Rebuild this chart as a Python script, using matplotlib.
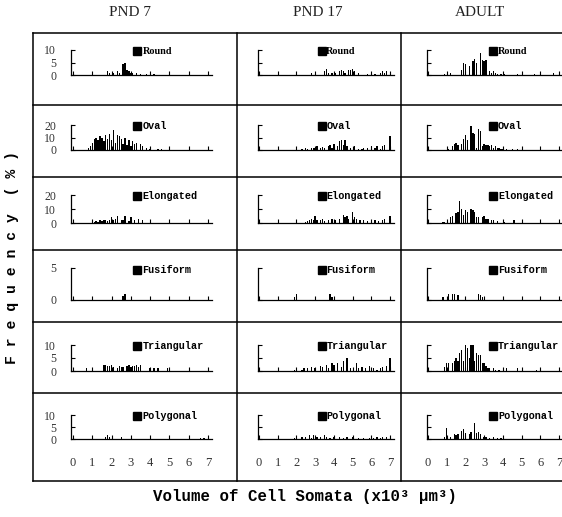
import matplotlib
matplotlib.use("Agg")
import matplotlib.pyplot as plt
from matplotlib.lines import Line2D

ages = ["PND 7", "PND 17", "ADULT"]
shapes = ["Round", "Oval", "Elongated", "Fusiform", "Triangular", "Polygonal"]
y_max = [10, 20, 20, 5, 10, 10]
y_ticks = [[0, 5, 10], [0, 10, 20], [0, 10, 20], [0, 5], [0, 5, 10], [0, 5, 10]]
x_ticks = [0, 1, 2, 3, 4, 5, 6, 7]

# PND 7
p7_round_x = [1.8, 1.9, 2.1, 2.3, 2.4, 2.6, 2.7, 2.8, 2.9, 3.0, 3.1, 3.3, 3.5, 3.8, 4.2]
p7_round_h = [1.5, 1.0, 1.0, 1.5, 1.0, 4.5, 5.0, 2.0, 1.5, 1.0, 1.0, 1.0, 0.5, 0.5, 0.5]
p7_oval_x = [0.8, 0.9, 1.0, 1.1, 1.2, 1.3, 1.4, 1.5, 1.6, 1.7, 1.8, 1.9, 2.0, 2.1, 2.2, 2.3,
             2.4, 2.5, 2.6, 2.7, 2.8, 2.9, 3.0, 3.1, 3.2, 3.3, 3.5, 3.6, 3.8, 4.0, 4.4, 4.6]
p7_oval_h = [2, 3, 6, 9, 10, 8, 11, 10, 7, 12, 9, 13, 8, 16, 6, 12,
             11, 9, 5, 10, 4, 8, 3, 7, 5, 6, 5, 3, 2, 1, 1, 1]
p7_elong_x = [1.0, 1.1, 1.2, 1.3, 1.4, 1.5, 1.6, 1.7, 1.8, 1.9, 2.0, 2.1, 2.2, 2.3, 2.5,
              2.6, 2.7, 2.9, 3.0, 3.2, 3.4, 3.6]
p7_elong_h = [1, 1, 1.5, 1, 2, 1.5, 2, 2, 1.5, 2, 4, 2, 3, 5, 2, 2, 5, 1.5, 4, 2, 3, 2]
p7_fusi_x = [2.6, 2.7]
p7_fusi_h = [0.6, 1.0]
p7_tri_x = [0.7, 1.0, 1.6, 1.7, 1.8, 1.9, 2.0, 2.1, 2.3, 2.4, 2.5, 2.6, 2.8, 2.9, 3.0, 3.1,
            3.2, 3.3, 3.4, 3.5, 4.0, 4.2, 4.4, 4.9]
p7_tri_h = [1, 0.5, 2.5, 2.5, 2, 2, 2.5, 1.5, 1, 2, 1.5, 1.5, 2, 2.5, 1.5, 2,
            2, 2.5, 1.5, 2.5, 1, 1, 1, 1]
p7_poly_x = [1.7, 1.8, 1.9, 2.5, 6.6, 6.8]
p7_poly_h = [1, 1.5, 1, 1, 0.5, 0.5]

# PND 17
p17_round_x = [2.8, 3.5, 3.6, 3.7, 3.9, 4.1, 4.3, 4.4, 4.5, 4.6, 4.8, 4.9, 5.0, 5.1, 5.3,
               5.8, 6.2, 6.5, 6.6, 6.7, 6.8]
p17_round_h = [1, 1.5, 2.5, 1, 1, 1, 1.5, 2, 1.5, 1, 2, 2, 2.5, 1.5, 1,
               0.5, 0.5, 1, 1.5, 1, 1.5]
p17_oval_x = [2.3, 2.5, 2.6, 2.8, 2.9, 3.0, 3.1, 3.3, 3.4, 3.5, 3.7, 3.8, 3.9, 4.0, 4.2,
              4.3, 4.4, 4.5, 4.6, 4.7, 4.9, 5.1, 5.3, 5.5, 5.6, 5.8, 6.0, 6.2, 6.3, 6.5,
              6.6, 6.7, 7.0]
p17_oval_h = [1, 1.5, 1, 2, 1.5, 2, 3, 1.5, 2.5, 2, 3, 4, 2, 5, 3,
              7, 8, 4, 8, 3, 2, 3, 1, 1, 2, 1.5, 3, 2, 3, 1,
              3, 4, 11]
p17_elong_x = [2.5, 2.6, 2.7, 2.8, 2.9, 3.0, 3.1, 3.3, 3.4, 3.5, 3.7, 3.9, 4.1, 4.3, 4.5,
               4.6, 4.7, 4.8, 5.0, 5.1, 5.2, 5.4, 5.6, 5.8, 6.0, 6.2, 6.4, 6.6, 6.7, 7.0]
p17_elong_h = [1, 1.5, 2.5, 3, 2, 5, 2, 2.5, 3, 1.5, 2, 3, 2.5, 3, 6,
               4, 5, 3, 8, 4, 3, 2, 2, 1.5, 2, 2, 1.5, 2, 3, 5]
p17_fusi_x = [1.9, 2.0, 3.8, 3.9]
p17_fusi_h = [0.5, 1.0, 0.9, 0.5]
p17_tri_x = [1.9, 2.0, 2.3, 2.4, 2.6, 2.8, 3.0, 3.3, 3.4, 3.6, 3.7, 3.9, 4.0, 4.2, 4.4,
             4.5, 4.7, 4.9, 5.2, 5.3, 5.5, 5.7, 5.9, 6.1, 6.3, 6.5, 6.6, 6.8, 7.0]
p17_tri_h = [0.5, 1, 0.5, 1, 1, 1.5, 1, 2, 1.5, 2.5, 1, 3, 2.5, 3, 1.5,
             4, 5, 1, 3, 1, 1.5, 1, 2, 1, 0.5, 1, 1.5, 2, 5]
p17_poly_x = [1.9, 2.3, 2.5, 2.7, 2.8, 2.9, 3.1, 3.3, 3.5, 3.6, 3.8, 4.0, 4.3, 4.5, 4.7,
              5.0, 5.3, 5.6, 5.9, 6.1, 6.3, 6.5, 6.6, 6.8]
p17_poly_h = [0.5, 1, 1, 1.5, 0.5, 1.5, 1, 1, 1.5, 1, 0.5, 1, 1, 0.5, 1,
              1, 0.5, 0.5, 0.5, 0.5, 1, 0.5, 1, 1]

# ADULT
ad_round_x = [0.9, 1.2, 1.8, 1.9, 2.0, 2.2, 2.4, 2.5, 2.6, 2.8, 2.9, 3.0, 3.1, 3.3, 3.4,
              3.5, 3.6, 3.7, 3.9, 4.1, 4.8, 5.7, 6.7]
ad_round_h = [0.5, 1, 2, 5, 4.5, 3.5, 5.5, 6.5, 5, 9, 6, 5.5, 6, 1.5, 1,
              1.5, 1, 0.5, 0.5, 0.5, 0.5, 0.5, 1]
ad_oval_x = [1.1, 1.3, 1.4, 1.5, 1.6, 1.8, 1.9, 2.0, 2.1, 2.3, 2.4, 2.5, 2.6, 2.7, 2.8,
             2.9, 3.0, 3.1, 3.2, 3.3, 3.4, 3.5, 3.6, 3.7, 3.8, 3.9, 4.0, 4.2, 4.5, 4.8]
ad_oval_h = [1, 3, 5, 6, 4, 5, 9, 12, 8, 19, 14, 13, 2, 17, 15,
             3, 5, 4, 4, 3, 4, 2, 3, 2, 1.5, 1, 1, 0.5, 0.5, 0.5]
ad_elong_x = [0.8, 0.9, 1.2, 1.3, 1.5, 1.6, 1.7, 1.8, 1.9, 2.0, 2.1, 2.3, 2.4, 2.5, 2.6,
              2.7, 2.9, 3.0, 3.1, 3.2, 3.4, 3.5, 3.7, 4.1, 4.6]
ad_elong_h = [1, 1, 4, 5, 7, 8, 16, 10, 6, 9, 8, 10, 9, 8, 4,
              4, 4, 5, 3, 3, 2, 2, 1.5, 1, 2]
ad_fusi_x = [0.8, 1.1, 1.3, 1.4, 1.6, 2.7, 2.8, 2.9]
ad_fusi_h = [0.5, 1, 1, 1, 0.8, 1, 0.8, 0.5]
ad_tri_x = [0.9, 1.0, 1.1, 1.3, 1.4, 1.5, 1.6, 1.7, 1.8, 1.9, 2.0, 2.1, 2.2, 2.3, 2.4,
            2.5, 2.6, 2.7, 2.8, 2.9, 3.0, 3.1, 3.2, 3.3, 3.5, 3.6, 3.8, 4.2, 4.8, 5.8]
ad_tri_h = [1.5, 3, 3, 3, 4, 5, 4, 7, 8, 4, 10, 9, 5, 10, 10,
            4, 7, 6, 6, 3, 3, 2, 1, 1, 1, 0.5, 0.5, 1, 1, 0.5]
ad_poly_x = [0.9, 1.0, 1.2, 1.4, 1.5, 1.6, 1.8, 1.9, 2.0, 2.2, 2.3, 2.5, 2.6, 2.7, 2.8,
             3.0, 3.1, 3.3, 3.5, 3.7, 3.9]
ad_poly_h = [1, 4.5, 1, 2, 1.5, 2, 3.5, 4, 2.5, 2, 3, 6.5, 2.5, 3, 2,
             1, 1, 0.5, 1, 0.5, 0.5]

data = [
    [(p7_round_x, p7_round_h), (p17_round_x, p17_round_h), (ad_round_x, ad_round_h)],
    [(p7_oval_x, p7_oval_h), (p17_oval_x, p17_oval_h), (ad_oval_x, ad_oval_h)],
    [(p7_elong_x, p7_elong_h), (p17_elong_x, p17_elong_h), (ad_elong_x, ad_elong_h)],
    [(p7_fusi_x, p7_fusi_h), (p17_fusi_x, p17_fusi_h), (ad_fusi_x, ad_fusi_h)],
    [(p7_tri_x, p7_tri_h), (p17_tri_x, p17_tri_h), (ad_tri_x, ad_tri_h)],
    [(p7_poly_x, p7_poly_h), (p17_poly_x, p17_poly_h), (ad_poly_x, ad_poly_h)],
]

W, H = 562, 517
fig = plt.figure(figsize=(W / 100, H / 100), dpi=100)
fig.patch.set_facecolor("white")

serif = "Liberation Serif"
mono = "Liberation Mono"

# pixel layout of the small axes
col_x0 = [73, 259, 428]
col_x1 = [208, 390, 559]
row_base = [75, 150, 223, 300, 371, 439]
row_top = [50, 125, 195, 268, 345, 415]
leg_fx = [0.47, 0.47, 0.49]

for r in range(6):
    for c in range(3):
        u = (col_x1[c] - col_x0[c]) / 7.0
        left = col_x0[c] - 0.08 * u
        right = col_x1[c] + 0.2 * u
        ax = fig.add_axes([left / W, 1 - row_base[r] / H, (right - left) / W,
                           (row_base[r] - row_top[r]) / H])
        ax.set_xlim(-0.08, 7.2)
        ax.set_ylim(0, y_max[r])
        xs, hs = data[r][c]
        ax.bar(xs, hs, width=0.07, color="black", align="center")
        for s in ["top", "right"]:
            ax.spines[s].set_visible(False)
        for s in ["left", "bottom"]:
            ax.spines[s].set_linewidth(0.9)
        ax.set_xticks(x_ticks)
        ax.set_yticks(y_ticks[r])
        ax.tick_params(direction="in", length=3, width=0.8)
        ax.tick_params(axis="y", pad=11, labelsize=8.5)
        ax.tick_params(axis="x", pad=13, labelsize=9)
        if c > 0:
            ax.set_yticklabels([])
        else:
            for t in ax.get_yticklabels():
                t.set_fontfamily(serif)
                t.set_color("#333333")
        if r < 5:
            ax.set_xticklabels([])
        else:
            for t in ax.get_xticklabels():
                t.set_fontfamily(serif)
                t.set_color("#333333")
        ax.patch.set_alpha(0)
        ax.plot([leg_fx[c]], [0.95], marker="s", color="black", markersize=6,
                transform=ax.transAxes, clip_on=False)
        fam = serif if shapes[r] == "Round" else mono
        ax.text(leg_fx[c] + 0.035, 0.95, shapes[r], transform=ax.transAxes,
                fontsize=7.3, fontweight="bold", family=fam, va="center", ha="left")

# frame lines
def hline(y, x0=33, x1=562, lw=1.1):
    fig.add_artist(Line2D([x0 / W, x1 / W], [1 - y / H, 1 - y / H], color="black", lw=lw))

def vline(x, y0=33, y1=481, lw=1.1):
    fig.add_artist(Line2D([x / W, x / W], [1 - y0 / H, 1 - y1 / H], color="black", lw=lw))

for y in [33, 105, 177, 250, 322, 393, 481]:
    hline(y)
for x in [33, 237, 401]:
    vline(x)

# column titles
for name, x in zip(ages, [130, 318, 480]):
    fig.text(x / W, 1 - 13 / H, name, ha="center", va="center", fontsize=11,
             family=serif, color="#222222")

fig.text(12 / W, 1 - 257 / H, "F r e q u e n c y  ( % )", rotation=90, ha="center",
         va="center", fontsize=10.6, fontweight="bold", family=mono)
fig.text(305 / W, 1 - 497 / H, "Volume of Cell Somata (x10³ µm³)", ha="center",
         va="center", fontsize=11.3, fontweight="bold", family=mono)

fig.savefig("out.png", dpi=100, facecolor="white")
